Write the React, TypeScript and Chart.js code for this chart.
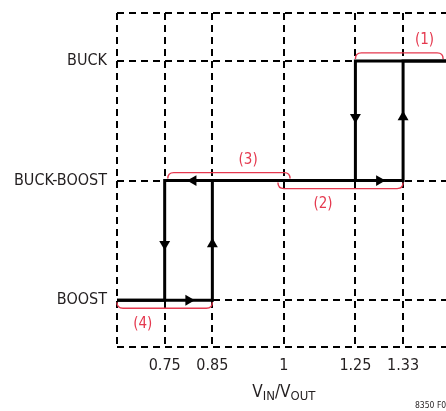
import React, { useEffect, useRef } from 'react';
import { Chart, registerables } from 'chart.js';

Chart.register(...registerables);

// Operating modes (y categories, bottom to top)
const modeLabels = ['BOOST', 'BUCK-BOOST', 'BUCK'];
// VIN/VOUT tick labels and their schematic (not-to-scale) axis positions
const ratioLabels = ['0.75', '0.85', '1', '1.25', '1.33'];
const ratioAxisPos = [2, 4, 7, 10, 12];
const axisMinX = 0;
const axisMaxX = 13.8;
const axisMinY = -0.39;
const axisMaxY = 2.4;

// Rising VIN/VOUT: mode switches up at these ratios
const risingSwitch = ['0.85', '1.33'];
// Falling VIN/VOUT: mode switches down at these ratios
const fallingSwitch = ['1.25', '0.75'];

// Direction arrows: position along x, mode level, rotation (deg, 0 = up)
const arrowX = [3, 4, 2, 3.2, 11, 10, 12];
const arrowY = [0, 0.47, 0.47, 1, 1, 1.53, 1.53];
const arrowRot = [90, 0, 180, 270, 90, 180, 0];

// Region braces
const braceLabels = ['(1)', '(2)', '(3)', '(4)'];
const braceFrom = [10, 6.75, 2.13, 0];
const braceTo = [13.68, 12, 7.26, 4];
const braceLevel = [2, 1, 1, 0];
const braceAbove = [true, false, true, false];
const braceLabelX = [12.9, 8.64, 5.5, 1.08];

const FONT = "'Liberation Sans Narrow', 'DejaVu Sans Condensed', 'Arial Narrow', sans-serif";
const TEXT = '#231f20';
const RED = '#e5394f';

const posOf = (label: string) => ratioAxisPos[ratioLabels.indexOf(label)];

const risingPath = [
  { x: axisMinX, y: 0 },
  { x: posOf(risingSwitch[0]), y: 0 },
  { x: posOf(risingSwitch[0]), y: 1 },
  { x: posOf(risingSwitch[1]), y: 1 },
  { x: posOf(risingSwitch[1]), y: 2 },
  { x: axisMaxX, y: 2 },
];
const fallingPath = [
  { x: axisMaxX, y: 2 },
  { x: posOf(fallingSwitch[0]), y: 2 },
  { x: posOf(fallingSwitch[0]), y: 1 },
  { x: posOf(fallingSwitch[1]), y: 1 },
  { x: posOf(fallingSwitch[1]), y: 0 },
  { x: axisMinX, y: 0 },
];
const arrowPoints = arrowX.map((x, i) => ({ x, y: arrowY[i] }));

const annotPlugin = {
  id: 'annot',
  afterDraw(chart: any) {
    const ctx = chart.ctx;
    const xs = chart.scales.x;
    const ys = chart.scales.y;
    ctx.save();
    // braces
    ctx.strokeStyle = RED;
    ctx.lineWidth = 1.4;
    ctx.fillStyle = RED;
    ctx.font = `15px ${FONT}`;
    ctx.textAlign = 'center';
    ctx.textBaseline = 'middle';
    braceLabels.forEach((lab, i) => {
      const x1 = xs.getPixelForValue(braceFrom[i]);
      const x2 = xs.getPixelForValue(braceTo[i]);
      const yl = ys.getPixelForValue(braceLevel[i]);
      const dir = braceAbove[i] ? -1 : 1;
      const flat = yl + dir * 8;
      const endY = yl + dir * 2;
      const r = 6;
      ctx.beginPath();
      ctx.moveTo(x1, endY);
      ctx.quadraticCurveTo(x1, flat, x1 + r, flat);
      ctx.lineTo(x2 - r, flat);
      ctx.quadraticCurveTo(x2, flat, x2, endY);
      ctx.stroke();
      const ly = braceAbove[i] ? flat - 12.5 : flat + 15.5;
      ctx.fillText(lab, xs.getPixelForValue(braceLabelX[i]), ly);
    });
    // axis title V_IN/V_OUT
    ctx.fillStyle = TEXT;
    ctx.textAlign = 'left';
    ctx.textBaseline = 'alphabetic';
    const parts = [
      { t: 'V', size: 17, dy: 0 },
      { t: 'IN', size: 13, dy: 3.5 },
      { t: '/', size: 17, dy: 0 },
      { t: 'V', size: 17, dy: 0 },
      { t: 'OUT', size: 13, dy: 3.5 },
    ];
    let total = 0;
    parts.forEach((p) => {
      ctx.font = `${p.size}px ${FONT}`;
      total += ctx.measureText(p.t).width;
    });
    let cx = xs.getPixelForValue(ratioAxisPos[2]) - total / 2;
    const base = 396.5;
    parts.forEach((p) => {
      ctx.font = `${p.size}px ${FONT}`;
      ctx.fillText(p.t, cx, base + p.dy);
      cx += ctx.measureText(p.t).width;
    });
    // figure code
    ctx.font = `8.5px ${FONT}`;
    ctx.fillText('8350 F01', 415, 408);
    ctx.restore();
  },
};

export default function App() {
  const ref = useRef<HTMLCanvasElement | null>(null);
  useEffect(() => {
    if (!ref.current) return;
    const lineDs = (data: any) => ({
      data,
      showLine: true,
      borderColor: '#000',
      borderWidth: 3,
      pointRadius: 0,
      borderJoinStyle: 'miter',
      borderCapStyle: 'butt',
      tension: 0,
    });
    const chart = new Chart(ref.current, {
      type: 'scatter',
      data: {
        datasets: [
          lineDs(risingPath) as any,
          lineDs(fallingPath) as any,
          {
            data: arrowPoints,
            showLine: false,
            pointStyle: 'triangle',
            pointRadius: 6.3,
            rotation: arrowRot,
            backgroundColor: '#000',
            borderColor: '#000',
            borderWidth: 0,
          } as any,
        ],
      },
      options: {
        responsive: false,
        animation: false,
        devicePixelRatio: 1,
        layout: { autoPadding: false, padding: { top: 13, left: 0, right: 0, bottom: 0 } },
        plugins: { legend: { display: false }, tooltip: { enabled: false } },
        scales: {
          x: {
            type: 'linear',
            min: axisMinX,
            max: axisMaxX,
            afterBuildTicks: (s: any) => {
              s.ticks = [axisMinX, ...ratioAxisPos].map((v) => ({ value: v }));
            },
            afterFit: (s: any) => {
              s.height = 64;
              s.paddingLeft = 0;
              s.paddingRight = 0;
            },
            ticks: {
              autoSkip: false,
              maxRotation: 0,
              padding: 9,
              color: TEXT,
              font: { family: FONT, size: 16 },
              callback: (v: any) => {
                const i = ratioAxisPos.indexOf(Number(v));
                return i >= 0 ? ratioLabels[i] : '';
              },
            },
            grid: { color: '#000', lineWidth: 2, drawTicks: false },
            border: { display: false, dash: [7, 5] },
          },
          y: {
            type: 'linear',
            min: axisMinY,
            max: axisMaxY,
            afterBuildTicks: (s: any) => {
              s.ticks = [axisMinY, 0, 1, 2, axisMaxY].map((v) => ({ value: v }));
            },
            afterFit: (s: any) => {
              s.width = 117;
              s.paddingTop = 0;
              s.paddingBottom = 0;
            },
            ticks: {
              autoSkip: false,
              padding: 10,
              color: TEXT,
              font: { family: FONT, size: 16 },
              callback: (v: any) => {
                const n = Number(v);
                return Number.isInteger(n) && n >= 0 && n < modeLabels.length ? modeLabels[n] : '';
              },
            },
            grid: { color: '#000', lineWidth: 2, drawTicks: false },
            border: { display: false, dash: [7, 5] },
          },
        },
      },
      plugins: [annotPlugin],
    });
    return () => chart.destroy();
  }, []);
  return (
    <div style={{ position: 'fixed', left: 0, top: 0, width: 446, height: 411, background: '#fff' }}>
      <canvas ref={ref} width={446} height={411} style={{ display: 'block' }} />
    </div>
  );
}
